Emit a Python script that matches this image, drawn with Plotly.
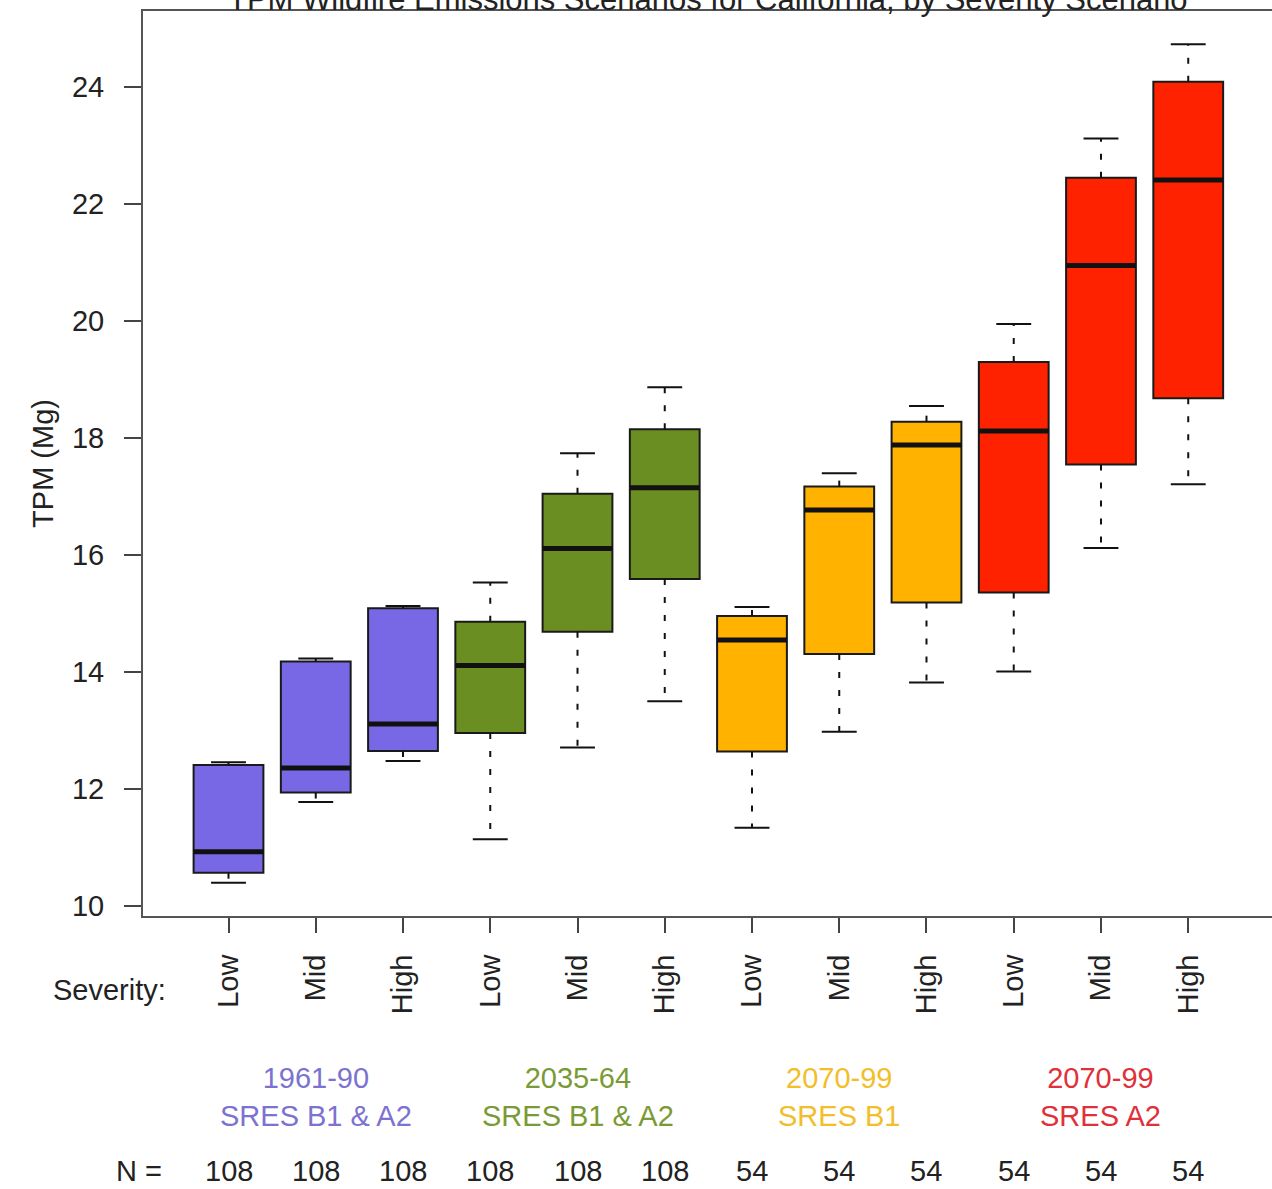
import plotly.graph_objects as go

# ---------------- data ----------------
severity = ["Low", "Mid", "High"] * 4
positions = list(range(1, 13))
whisker_low = [10.40, 11.78, 12.48, 11.14, 12.71, 13.50, 11.34, 12.98, 13.82, 14.01, 16.12, 17.21]
q1_vals     = [10.57, 11.94, 12.65, 12.96, 14.69, 15.59, 12.64, 14.31, 15.19, 15.36, 17.55, 18.68]
medians     = [10.93, 12.36, 13.11, 14.11, 16.11, 17.15, 14.55, 16.77, 17.88, 18.12, 20.95, 22.41]
q3_vals     = [12.41, 14.18, 15.09, 14.86, 17.05, 18.15, 14.96, 17.17, 18.28, 19.30, 22.45, 24.09]
whisker_hi  = [12.46, 14.23, 15.13, 15.53, 17.74, 18.87, 15.11, 17.40, 18.55, 19.95, 23.12, 24.73]
n_counts    = [108, 108, 108, 108, 108, 108, 54, 54, 54, 54, 54, 54]

group_labels = ["1961-90<br>SRES B1 & A2", "2035-64<br>SRES B1 & A2",
                "2070-99<br>SRES B1", "2070-99<br>SRES A2"]
group_colors = ["#7868E6", "#6B8E23", "#FFB300", "#FF2200"]
label_colors = ["#7C72D0", "#7A9A35", "#F2BE2A", "#E0303A"]
y_ticks = [10, 12, 14, 16, 18, 20, 22, 24]

title_text = "TPM Wildfire Emissions Scenarios for California, by Severity Scenario"

FONT = "Liberation Sans, Arial, sans-serif"
fig = go.Figure()

BOXW = 0.8
CAPW = 0.4

for g in range(4):
    idx = list(range(g * 3, g * 3 + 3))
    xs = [positions[i] for i in idx]
    # dashed whiskers
    wx, wy = [], []
    for i in idx:
        wx += [positions[i], positions[i], None, positions[i], positions[i], None]
        wy += [q3_vals[i], whisker_hi[i], None, q1_vals[i], whisker_low[i], None]
    fig.add_trace(go.Scatter(x=wx, y=wy, mode="lines", showlegend=False, hoverinfo="skip",
                             line=dict(color="#111111", width=2, dash="6px,12px")))
    # caps
    cx, cy = [], []
    for i in idx:
        cx += [positions[i] - CAPW / 2, positions[i] + CAPW / 2, None,
               positions[i] - CAPW / 2, positions[i] + CAPW / 2, None]
        cy += [whisker_hi[i], whisker_hi[i], None, whisker_low[i], whisker_low[i], None]
    fig.add_trace(go.Scatter(x=cx, y=cy, mode="lines", showlegend=False, hoverinfo="skip",
                             line=dict(color="#111111", width=2)))
    # boxes
    fig.add_trace(go.Box(
        x=xs,
        q1=[q1_vals[i] for i in idx],
        median=[medians[i] for i in idx],
        q3=[q3_vals[i] for i in idx],
        lowerfence=[q1_vals[i] for i in idx],
        upperfence=[q3_vals[i] for i in idx],
        width=BOXW, whiskerwidth=0, boxpoints=False,
        fillcolor=group_colors[g],
        line=dict(color="#1a1a1a", width=2),
        showlegend=False, hoverinfo="skip",
    ))
    # thick medians
    mx, my = [], []
    for i in idx:
        mx += [positions[i] - BOXW / 2, positions[i] + BOXW / 2, None]
        my += [medians[i], medians[i], None]
    fig.add_trace(go.Scatter(x=mx, y=my, mode="lines", showlegend=False, hoverinfo="skip",
                             line=dict(color="#111111", width=5)))

annotations = []
# title (partly clipped at top, as in the reference)
annotations.append(dict(text=title_text, xref="paper", yref="paper", x=0.5, y=1.0,
                        xanchor="center", yanchor="middle", yshift=12, showarrow=False,
                        font=dict(family=FONT, size=31, color="#222222")))
# Severity:
annotations.append(dict(text="Severity:", xref="paper", yref="paper", x=0, y=0,
                        xanchor="right", yanchor="middle", xshift=25, yshift=-74,
                        showarrow=False, font=dict(family=FONT, size=29, color="#222222")))
# group labels
for g in range(4):
    annotations.append(dict(text=group_labels[g], xref="x", yref="paper",
                            x=positions[g * 3 + 1], y=0, xanchor="center", yanchor="middle",
                            yshift=-181, showarrow=False,
                            font=dict(family=FONT, size=29, color=label_colors[g])))
# N row
annotations.append(dict(text="N =", xref="paper", yref="paper", x=0, y=0,
                        xanchor="right", yanchor="middle", xshift=21, yshift=-255,
                        showarrow=False, font=dict(family=FONT, size=29, color="#222222")))
for i in range(12):
    annotations.append(dict(text=str(n_counts[i]), xref="x", yref="paper",
                            x=positions[i], y=0, xanchor="center", yanchor="middle",
                            yshift=-255, showarrow=False,
                            font=dict(family=FONT, size=29, color="#222222")))

fig.update_layout(
    width=1272, height=1189,
    margin=dict(l=143, r=0, t=11, b=273),
    paper_bgcolor="white", plot_bgcolor="white",
    font=dict(family=FONT, size=29, color="#222222"),
    annotations=annotations,
    xaxis=dict(range=[0.02, 12.96], tickmode="array", tickvals=positions, ticktext=severity,
               tickangle=-90, ticks="outside", ticklen=15, tickwidth=2, tickcolor="#444444",
               showline=True, linecolor="#555555", linewidth=2, mirror=True,
               showgrid=False, zeroline=False, ticklabelstandoff=10,
               tickfont=dict(family=FONT, size=29, color="#222222")),
    yaxis=dict(range=[9.83, 25.30], tickmode="array", tickvals=y_ticks,
               ticks="outside", ticklen=17, tickwidth=2, tickcolor="#444444",
               showline=True, linecolor="#555555", linewidth=2, mirror=False,
               showgrid=False, zeroline=False, ticklabelstandoff=14,
               title=dict(text="TPM (Mg)", font=dict(family=FONT, size=29, color="#222222"),
                          standoff=10),
               tickfont=dict(family=FONT, size=29, color="#222222")),
)

fig.write_html("out.html", config={"displayModeBar": False},
               post_script="document.body.style.margin='0px';")
